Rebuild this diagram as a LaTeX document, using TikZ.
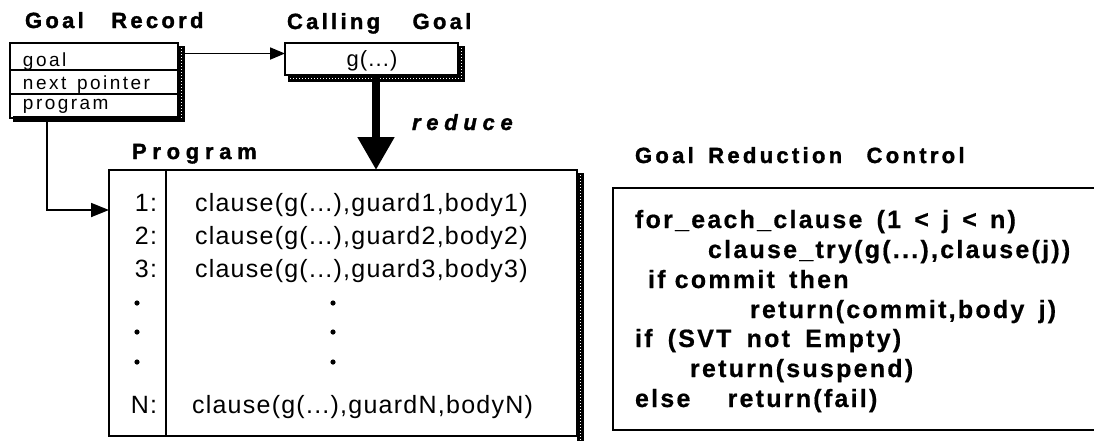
\documentclass[tikz,border=0pt]{standalone}
\usepackage{fontspec}
\setmainfont{Liberation Sans}
\newfontfamily\ttlfont{Liberation Sans}[LetterSpace=15, BoldFeatures={FakeBold=1.5}]
\newfontfamily\widefont{Liberation Sans}[LetterSpace=26, BoldFeatures={FakeBold=1.5}, BoldItalicFeatures={FakeBold=1.5}]
\newfontfamily\codefont{Liberation Sans}[LetterSpace=9, BoldFeatures={FakeBold=0.6}]
\newfontfamily\clsfont{Liberation Sans}[LetterSpace=5]
\newfontfamily\recfont{Liberation Sans}[LetterSpace=13]
\usetikzlibrary{arrows.meta}
\newcommand\gp[1]{\hspace{#1pt}}
\tikzset{
  every node/.style={inner sep=0pt, outer sep=0pt},
  boxline/.style={draw=black, line width=1.8pt},
  titletext/.style={anchor=base west, font=\ttlfont\bfseries\fontsize{22}{26}\selectfont},
  rectext/.style={anchor=base west, font=\recfont\fontsize{19}{23}\selectfont},
  clstext/.style={anchor=base west, font=\clsfont\fontsize{25}{30}\selectfont},
  numtext/.style={anchor=base east, font=\clsfont\fontsize{25}{30}\selectfont},
  codetext/.style={anchor=base west, font=\codefont\bfseries\fontsize{25}{30}\selectfont},
  connector/.style={draw=black, line width=1.8pt},
  shadowdots/.style={draw=white, line width=1pt, dash pattern=on 1pt off 2pt},
}
\begin{document}
\begin{tikzpicture}[x=1pt, y=-1pt]
\useasboundingbox (0,0) rectangle (1094,440);

% ---- Goal record ----
\node[titletext] (grtitle) at (25,28) {Goal \gp{18}Record};
\node[boxline, minimum width=168pt, minimum height=27pt] (grgoal) at (94,56.5) {};
\node[boxline, minimum width=168pt, minimum height=24pt] (grnext) at (94,82) {};
\node[boxline, minimum width=168pt, minimum height=24pt] (grprog) at (94,106) {};
\node[rectext] (tgoal) at (23,66) {goal};
\node[rectext] (tnext) at (23,89) {next \gp{3}pointer};
\node[rectext] (tprog) at (23,109) {program};
\fill[black] (178,46) rectangle (185,122);
\fill[black] (13,116) rectangle (185,122);
\draw[shadowdots] (181.5,48) -- (181.5,118);

% ---- Calling goal ----
\node[titletext] (cgtitle) at (287,29) {Calling \gp{23}Goal};
\node[boxline, minimum width=173pt, minimum height=32pt] (cg) at (371.5,59) {};
\node[anchor=base, font=\clsfont\fontsize{22}{26}\selectfont] (cgtext) at (372,66) {g(...)};
\fill[black] (458,46) rectangle (465,82);
\fill[black] (288,75) rectangle (465,82);
\draw[shadowdots] (461.5,48) -- (461.5,80);
\draw[shadowdots] (290,78.5) -- (461,78.5);

% ---- Program ----
\node[anchor=base west, font=\widefont\bfseries\fontsize{22}{26}\selectfont] (prtitle) at (132,159) {Program};
\node[boxline, minimum width=468pt, minimum height=266pt] (prog) at (343,303) {};
\draw[line width=1.8pt] (166,170) -- (166,436);
\fill[black] (577,173) rectangle (584,442);
\draw[shadowdots] (580.5,175) -- (580.5,440);

\node[numtext] (n1) at (157,211) {1:};
\node[numtext] (n2) at (157,244) {2:};
\node[numtext] (n3) at (157,277) {3:};
\node[numtext] (nN) at (157,413) {N:};
\node[clstext] (c1) at (195,211) {clause(g(...),guard1,body1)};
\node[clstext] (c2) at (195,244) {clause(g(...),guard2,body2)};
\node[clstext] (c3) at (195,277) {clause(g(...),guard3,body3)};
\node[clstext] (cN) at (192,413) {clause(g(...),guardN,bodyN)};
\foreach \yy in {303,332,362} {
  \fill[black] (137,\yy) circle (2.6pt);
  \fill[black] (333,\yy) circle (2.6pt);
}

% ---- Goal reduction control ----
\node[titletext] (ctitle) at (635,163) {Goal \gp{5}Reduction \gp{15}Control};
\node[boxline, minimum width=483pt, minimum height=242pt] (ctl) at (854.5,309) {};
\node[codetext] (l1) at (635,228) {for\_each\_clause \gp{5}(1 \gp{4}< \gp{4}j \gp{4}< \gp{4}n)};
\node[codetext] (l2) at (708,258) {clause\_try(g(...),clause(j))};
\node[codetext] (l3) at (648,288) {if commit \gp{5}then};
\node[codetext] (l4) at (750,318) {return(commit,body \gp{5}j)};
\node[codetext] (l5) at (635,347) {if \gp{6}(SVT \gp{6}not \gp{6}Empty)};
\node[codetext] (l6) at (690,377) {return(suspend)};
\node[codetext] (l7) at (635,407) {else \gp{28}return(fail)};

% ---- Connectors ----
\coordinate (gout) at ([xshift=7pt,yshift=3pt]grgoal.east);
\draw[connector, -{Triangle[length=15pt,width=12pt]}] (gout) -- (gout -| cg.west);

\coordinate (tap) at ([xshift=37pt]grprog.south west);
\coordinate (entry) at ([yshift=-40pt]prog.north west);
\draw[connector, -{Triangle[length=18pt,width=14pt]}] (tap) |- (entry);

\coordinate (rtop) at ([xshift=4.5pt]cg.south);
\draw[line width=8pt, -{Triangle[length=33pt,width=35pt]}] (rtop) -- (rtop |- prog.north);
\node[anchor=base west, font=\widefont\bfseries\itshape\fontsize{22}{26}\selectfont] (reduce) at (412,130) {reduce};
\end{tikzpicture}
\end{document}
